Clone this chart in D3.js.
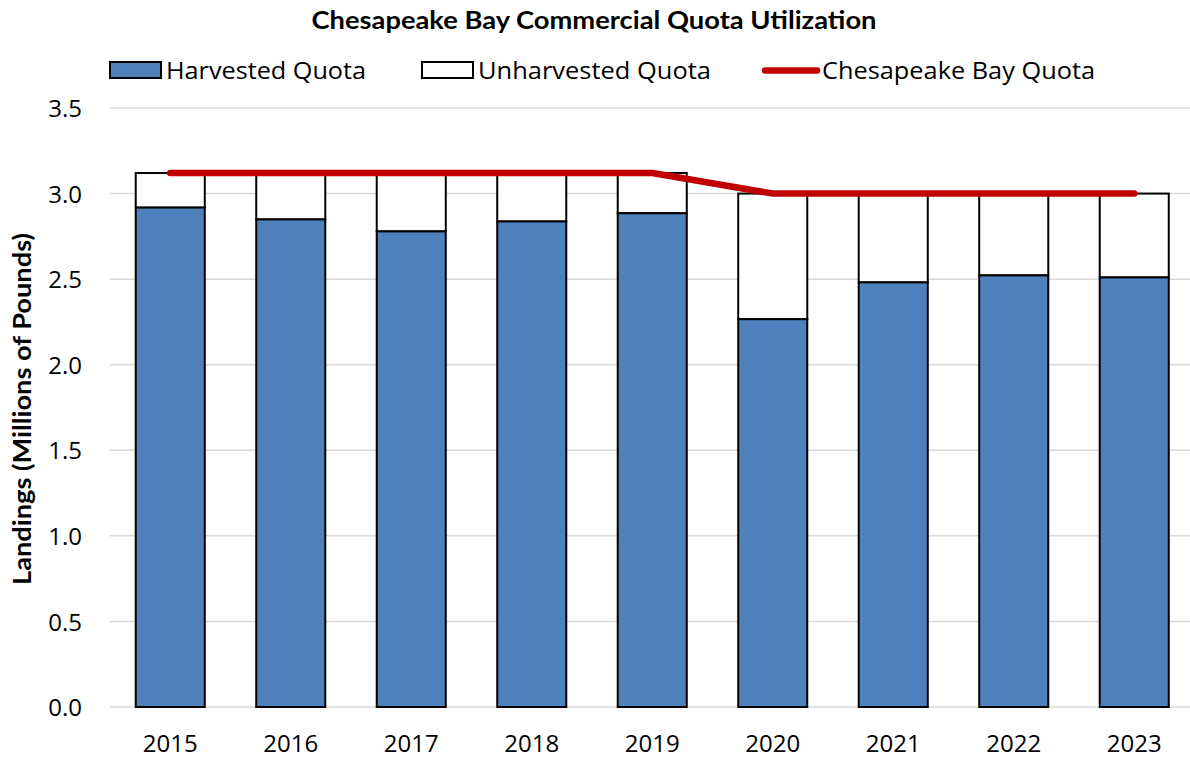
<!DOCTYPE html>
<html>
<head>
<meta charset="utf-8">
<script src="https://cdn.jsdelivr.net/npm/d3@7"></script>
<style>
  body { margin: 0; background: #fff; }
  svg text { font-family: "Open Sans", Lato, sans-serif; fill: #000; }
  svg text.bold { font-family: Lato, "Open Sans", sans-serif; font-weight: bold; }
</style>
</head>
<body>
<svg id="chart"></svg>
<script>
// chart data
var years = ["2015", "2016", "2017", "2018", "2019", "2020", "2021", "2022", "2023"];
var harvested = [2.918, 2.849, 2.779, 2.837, 2.885, 2.266, 2.481, 2.522, 2.510];
var quota = [3.12, 3.12, 3.12, 3.12, 3.12, 3.0, 3.0, 3.0, 3.0];
var yTicks = [0, 0.5, 1.0, 1.5, 2.0, 2.5, 3.0, 3.5];

var W = 1190, H = 759;
var svg = d3.select("#chart").attr("width", W).attr("height", H);

var x = d3.scaleBand()
    .domain(years)
    .range([110, 1194.5])
    .paddingInner(0.427)
    .paddingOuter(0.2135);

var y = d3.scaleLinear().domain([0, 3.5]).range([707, 108]);

// gridlines
svg.append("g").selectAll("line")
  .data(yTicks)
  .enter().append("line")
    .attr("x1", 110).attr("x2", W)
    .attr("y1", function(d) { return y(d); })
    .attr("y2", function(d) { return y(d); })
    .style("stroke", "#d9d9d9")
    .style("stroke-width", 1.5);

// y axis labels
var yAxis = d3.axisLeft(y).tickValues(yTicks)
    .tickFormat(d3.format(".1f")).tickSize(0).tickPadding(0);
var yG = svg.append("g").attr("transform", "translate(82,0)").call(yAxis);
yG.select(".domain").remove();
yG.selectAll("text").style("font-size", "24px").attr("font-family", null).attr("dy", "0.36em");

// x axis labels
var xAxis = d3.axisBottom(x).tickSize(0).tickPadding(0);
var xG = svg.append("g").attr("transform", "translate(0,734)").call(xAxis);
xG.select(".domain").remove();
xG.selectAll("text").style("font-size", "24px").attr("font-family", null).attr("dy", "0.75em");

// stacked bars
var bars = svg.append("g").selectAll("g")
  .data(years)
  .enter().append("g");

bars.append("rect")  // unharvested part
    .attr("x", function(d) { return x(d); })
    .attr("width", x.bandwidth())
    .attr("y", function(d, i) { return y(quota[i]); })
    .attr("height", function(d, i) { return y(harvested[i]) - y(quota[i]); })
    .style("fill", "#fff")
    .style("stroke", "#000")
    .style("stroke-width", 2);

bars.append("rect")  // harvested part
    .attr("x", function(d) { return x(d); })
    .attr("width", x.bandwidth())
    .attr("y", function(d, i) { return y(harvested[i]); })
    .attr("height", function(d, i) { return y(0) - y(harvested[i]); })
    .style("fill", "#4f81bd")
    .style("stroke", "#000")
    .style("stroke-width", 2);

// quota line
var line = d3.line()
    .x(function(d, i) { return x(years[i]) + x.bandwidth() / 2; })
    .y(function(d) { return y(d); });

svg.append("path")
    .datum(quota)
    .attr("d", line)
    .style("fill", "none")
    .style("stroke", "#c00000")
    .style("stroke-width", 6.5)
    .style("stroke-linecap", "round")
    .style("stroke-linejoin", "round");

// title
svg.append("text")
    .attr("class", "bold")
    .attr("x", 594).attr("y", 29)
    .attr("text-anchor", "middle")
    .style("font-size", "24px")
    .attr("textLength", 565)
    .attr("lengthAdjust", "spacingAndGlyphs")
    .text("Chesapeake Bay Commercial Quota Utilization");

// y axis title
svg.append("text")
    .attr("class", "bold")
    .attr("transform", "translate(31,409) rotate(-90)")
    .attr("text-anchor", "middle")
    .style("font-size", "24px")
    .attr("textLength", 352)
    .attr("lengthAdjust", "spacingAndGlyphs")
    .text("Landings (Millions of Pounds)");

// legend
var legend = [
  {name: "Harvested Quota", type: "rect", fill: "#4f81bd", x: 110, w: 200},
  {name: "Unharvested Quota", type: "rect", fill: "#fff", x: 422, w: 233},
  {name: "Chesapeake Bay Quota", type: "line", fill: "#c00000", x: 762, w: 273}
];
var lg = svg.append("g").selectAll("g")
  .data(legend)
  .enter().append("g")
    .attr("transform", function(d) { return "translate(" + d.x + ",0)"; });

lg.filter(function(d) { return d.type == "rect"; })
  .append("rect")
    .attr("x", 0).attr("y", 62).attr("width", 51).attr("height", 16)
    .style("fill", function(d) { return d.fill; })
    .style("stroke", "#000")
    .style("stroke-width", 2);

lg.filter(function(d) { return d.type == "line"; })
  .append("line")
    .attr("x1", 3).attr("x2", 55).attr("y1", 70.5).attr("y2", 70.5)
    .style("stroke", function(d) { return d.fill; })
    .style("stroke-width", 6.5)
    .style("stroke-linecap", "round");

lg.append("text")
    .attr("x", function(d) { return d.type == "line" ? 60 : 56; })
    .attr("y", 79)
    .style("font-size", "24px")
    .attr("textLength", function(d) { return d.w; })
    .attr("lengthAdjust", "spacingAndGlyphs")
    .text(function(d) { return d.name; });
</script>
</body>
</html>
